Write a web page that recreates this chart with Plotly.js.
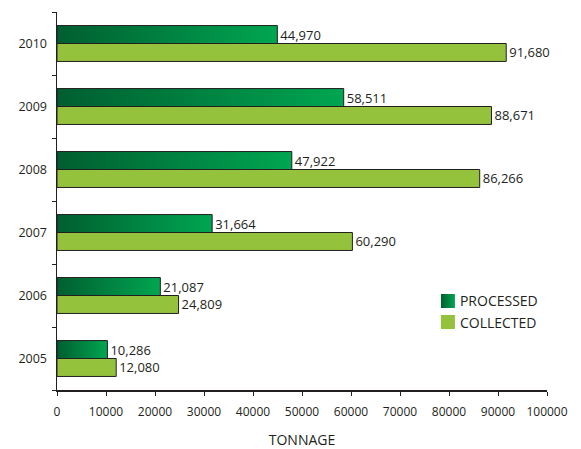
<!DOCTYPE html>
<html>
<head>
<meta charset="utf-8">
<script src="https://cdn.plot.ly/plotly-3.0.1.min.js"></script>
<style>html,body{margin:0;padding:0;background:#fff;}</style>
</head>
<body>
<div id="chart" style="width:581px;height:449px;"></div>
<script>
const years = ["2005", "2006", "2007", "2008", "2009", "2010"];
const processed = [10286, 21087, 31664, 47922, 58511, 44970];
const collected = [12080, 24809, 60290, 86266, 88671, 91680];
const xTicks = [0, 10000, 20000, 30000, 40000, 50000, 60000, 70000, 80000, 90000, 100000];
const seriesNames = ["PROCESSED", "COLLECTED"];

const textColor = "#231F20";
const fontFam = "Open Sans, sans-serif";

const traces = [
  {
    type: "bar", orientation: "h", name: seriesNames[1],
    y: years, x: collected,
    marker: {color: "#95C23D", line: {color: "#231F20", width: 1}},
    text: collected.map(v => v.toLocaleString("en-US")),
    textposition: "outside", cliponaxis: false, constraintext: "none",
    textfont: {family: fontFam, size: 13, color: textColor},
    hoverinfo: "none"
  },
  {
    type: "bar", orientation: "h", name: seriesNames[0],
    y: years, x: processed,
    marker: {color: "#00924A", line: {color: "#231F20", width: 1}},
    text: processed.map(v => v.toLocaleString("en-US")),
    textposition: "outside", cliponaxis: false, constraintext: "none",
    textfont: {family: fontFam, size: 13, color: textColor},
    hoverinfo: "none"
  }
];

const layout = {
  width: 581, height: 449,
  margin: {l: 57, r: 34, t: 12, b: 59},
  paper_bgcolor: "#fff", plot_bgcolor: "#fff",
  barmode: "group", bargap: 0.43, bargroupgap: 0,
  font: {family: fontFam, color: textColor, size: 12},
  showlegend: true,
  legend: {
    x: 0.757, xanchor: "left", y: 0.277, yanchor: "top",
    traceorder: "reversed", bgcolor: "rgba(0,0,0,0)",
    font: {family: fontFam, size: 14, color: textColor},
    tracegroupgap: 0
  },
  xaxis: {
    range: [0, 100000], tickvals: xTicks, ticktext: xTicks.map(String),
    showgrid: false, zeroline: false, showline: true, linecolor: "#231F20", linewidth: 1.5,
    ticks: "outside", ticklen: 4, tickcolor: "#231F20", tickwidth: 1,
    tickfont: {family: fontFam, size: 12, color: textColor},
    ticklabelstandoff: 6,
    title: {text: "TONNAGE", font: {family: fontFam, size: 14, color: textColor}, standoff: 23}
  },
  yaxis: {
    type: "category", categoryorder: "array", categoryarray: years,
    range: [-0.5, 5.5],
    showgrid: false, zeroline: false, showline: true, linecolor: "#231F20", linewidth: 1.5,
    ticks: "outside", tickson: "boundaries", ticklen: 4, tickcolor: "#231F20", tickwidth: 1,
    tickfont: {family: fontFam, size: 12.5, color: textColor},
    ticklabelstandoff: 6
  }
};

Plotly.newPlot("chart", traces, layout, {staticPlot: true, displayModeBar: false}).then(gd => {
  const svgNS = "http://www.w3.org/2000/svg";
  const svg = gd.querySelector("svg.main-svg");
  let defs = svg.querySelector("defs");
  if (!defs) { defs = document.createElementNS(svgNS, "defs"); svg.insertBefore(defs, svg.firstChild); }
  const grad = document.createElementNS(svgNS, "linearGradient");
  grad.setAttribute("id", "procGrad");
  grad.setAttribute("x1", "0"); grad.setAttribute("y1", "0");
  grad.setAttribute("x2", "1"); grad.setAttribute("y2", "0");
  [["0", "#005E30"], ["1", "#00A651"]].forEach(([o, c]) => {
    const s = document.createElementNS(svgNS, "stop");
    s.setAttribute("offset", o); s.setAttribute("stop-color", c);
    grad.appendChild(s);
  });
  defs.appendChild(grad);
  const barTraces = gd.querySelectorAll(".barlayer .trace.bars");
  if (barTraces[1]) {
    barTraces[1].querySelectorAll(".point path").forEach(p => { p.style.fill = "url(#procGrad)"; });
  }
  gd.querySelectorAll(".legend .traces").forEach(t => {
    const txt = t.querySelector(".legendtext");
    if (txt) txt.setAttribute("x", "32");
    t.querySelectorAll(".legendpoints path").forEach(p => {
      p.setAttribute("d", "M7,7H-7V-7H7Z");
      p.style.stroke = "none";
      if (txt && txt.textContent === seriesNames[0]) p.style.fill = "url(#procGrad)";
    });
  });
});
</script>
</body>
</html>
